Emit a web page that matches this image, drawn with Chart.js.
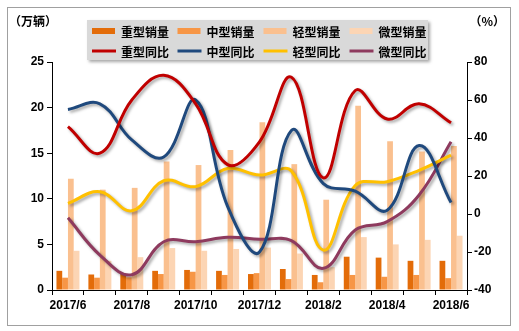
<!DOCTYPE html>
<html>
<head>
<meta charset="utf-8">
<script src="https://cdn.jsdelivr.net/npm/chart.js@4.4.1/dist/chart.umd.min.js"></script>
<style>
html,body{margin:0;padding:0;background:#fff;}
#wrap{width:519px;height:331px;position:relative;}
</style>
</head>
<body>
<div id="wrap"><canvas id="c" width="519" height="331"></canvas></div>
<script>
const categories = ['2017/6','2017/7','2017/8','2017/9','2017/10','2017/11','2017/12','2018/1','2018/2','2018/3','2018/4','2018/5','2018/6'];
const heavySales  = [2.1, 1.7, 1.8, 2.1, 2.2, 2.1, 1.75, 2.3, 1.65, 3.65, 3.55, 3.2, 3.2];
const mediumSales = [1.35, 1.35, 1.4, 1.75, 2.0, 1.65, 1.85, 1.2, 0.85, 1.65, 1.45, 1.65, 1.3];
const lightSales  = [12.2, 11.0, 11.2, 14.1, 13.7, 15.35, 18.4, 13.8, 9.9, 20.2, 16.3, 15.2, 15.8];
const microSales  = [4.3, 3.2, 3.6, 4.6, 4.3, 4.5, 4.65, 4.0, 2.5, 5.8, 5.0, 5.5, 5.95];
const heavyYoY  = [46, 32, 60, 73, 58, 26, 38, 72, 19, 65, 50, 58, 48];
const mediumYoY = [55, 58, 39, 30, 60, 4, -20, 44, 16, 12, 2, 36, 6];
const lightYoY  = [5.6, 11.7, 1.7, 17.5, 14.4, 24, 20.5, 22.6, -19, 15, 17, 23, 31];
const microYoY  = [-2, -21.6, -32, -14.6, -14.6, -12.3, -13.3, -14, -28.6, -8.4, -4, 10, 38];
const seriesNames = ['重型销量','中型销量','轻型销量','微型销量','重型同比','中型同比','轻型同比','微型同比'];
const leftAxisTitle = '（万辆）';
const rightAxisTitle = '（%）';

const barColors = ['#E36C09','#F79646','#FAC08F','#FCD5B4'];
const lineColors = ['#C00000','#1F497D','#FFC000','#8E3A5E'];

const cjk = '"Noto Sans CJK SC", "Liberation Sans", sans-serif';
Chart.defaults.font.family = '"Liberation Sans", Arial, sans-serif';
Chart.defaults.font.size = 12;
Chart.defaults.font.weight = 'bold';
Chart.defaults.color = '#000';

function barDs(i, data){
  return {type:'bar', label:seriesNames[i], data, backgroundColor:barColors[i], borderWidth:0,
    yAxisID:'y', categoryPercentage:0.72, barPercentage:1.0, order:2};
}
function lineDs(i, data){
  return {type:'line', label:seriesNames[i+4], data, borderColor:lineColors[i], backgroundColor:lineColors[i],
    borderWidth:3, pointRadius:0, tension:0.4, yAxisID:'y1', order:1, fill:false};
}

const framePlugin = {
  id:'frame',
  beforeDraw(chart){
    const ctx = chart.ctx;
    ctx.save();
    ctx.fillStyle = '#fff';
    ctx.fillRect(0,0,chart.width,chart.height);
    ctx.strokeStyle = '#A0A0A0';
    ctx.lineWidth = 1;
    ctx.strokeRect(7.5,7.5,503,318);
    ctx.restore();
  },
  beforeDatasetDraw(chart, args){
    const ds = chart.data.datasets[args.index];
    if (ds.type === 'line'){
      const ctx = chart.ctx;
      ctx.save();
      ctx.shadowColor = 'rgba(0,0,0,0.35)';
      ctx.shadowBlur = 3;
      ctx.shadowOffsetX = 2;
      ctx.shadowOffsetY = 2;
    }
  },
  afterDatasetDraw(chart, args){
    const ds = chart.data.datasets[args.index];
    if (ds.type === 'line') chart.ctx.restore();
  },
  afterDraw(chart){
    const ctx = chart.ctx;
    ctx.save();
    // axis titles
    ctx.fillStyle = '#000';
    ctx.font = 'bold 12px ' + cjk;
    ctx.textBaseline = 'middle';
    ctx.textAlign = 'left';
    ctx.fillText(leftAxisTitle, 9, 21);
    ctx.textAlign = 'right';
    ctx.fillText(rightAxisTitle, 505, 21);
    // legend box
    ctx.save();
    ctx.shadowColor = 'rgba(0,0,0,0.35)';
    ctx.shadowBlur = 3;
    ctx.shadowOffsetX = 2;
    ctx.shadowOffsetY = 2;
    ctx.fillStyle = '#D9D9D9';
    ctx.fillRect(87,20,341,40);
    ctx.restore();
    const colX = [92, 177.5, 263.5, 349.5];
    const rowY = [31, 51];
    ctx.font = 'bold 12px ' + cjk;
    ctx.textAlign = 'left';
    chart.data.datasets.forEach((ds, i) => {
      const r = i < 4 ? 0 : 1, c = i % 4;
      const x = colX[c], y = rowY[r];
      if (ds.type === 'bar'){
        ctx.fillStyle = ds.backgroundColor;
        ctx.fillRect(x, y-3, 23, 6);
      } else {
        ctx.strokeStyle = ds.borderColor;
        ctx.lineWidth = 3;
        ctx.beginPath(); ctx.moveTo(x, y); ctx.lineTo(x+24, y); ctx.stroke();
      }
      ctx.fillStyle = '#000';
      ctx.fillText(ds.label, x+29, y+1);
    });
    ctx.restore();
  }
};

new Chart(document.getElementById('c'), {
  data:{
    labels:categories,
    datasets:[
      barDs(0, heavySales), barDs(1, mediumSales), barDs(2, lightSales), barDs(3, microSales),
      lineDs(0, heavyYoY), lineDs(1, mediumYoY), lineDs(2, lightYoY), lineDs(3, microYoY)
    ]
  },
  options:{
    responsive:false,
    animation:false,
    layout:{padding:{top:62,left:0,right:0,bottom:0}},
    plugins:{legend:{display:false}, tooltip:{enabled:false}},
    scales:{
      x:{
        offset:true,
        grid:{display:true, drawOnChartArea:false, offset:true, tickLength:5, color:'#000'},
        border:{display:true, color:'#000', width:1},
        ticks:{autoSkip:false, maxRotation:0, minRotation:0, padding:3, color:'#000',
          callback:(v, i) => (i % 2 === 0 ? categories[i] : '')},
        afterFit(s){ s.height = 41; }
      },
      y:{
        position:'left', min:0, max:25,
        ticks:{stepSize:5, padding:3, color:'#000'},
        grid:{drawOnChartArea:false, tickLength:5, color:'#000'},
        border:{display:true, color:'#000', width:1},
        afterFit(s){ s.width = 52; }
      },
      y1:{
        position:'right', min:-40, max:80,
        ticks:{stepSize:20, padding:2, color:'#000'},
        grid:{drawOnChartArea:false, tickLength:5, color:'#000'},
        border:{display:true, color:'#000', width:1},
        afterFit(s){ s.width = 52; }
      }
    }
  },
  plugins:[framePlugin]
});
</script>
</body>
</html>
